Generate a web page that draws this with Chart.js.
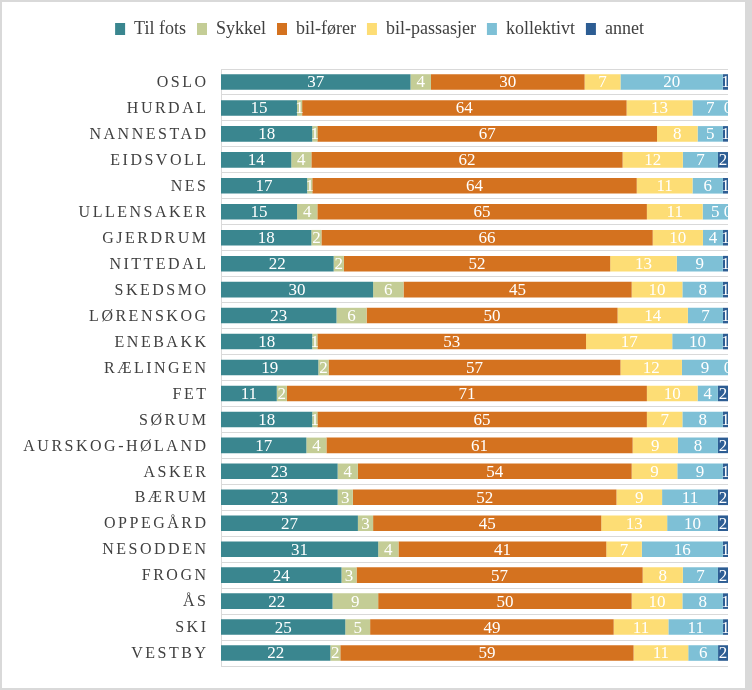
<!DOCTYPE html>
<html>
<head>
<meta charset="utf-8">
<script src="https://cdn.jsdelivr.net/npm/chart.js@4.4.1/dist/chart.umd.min.js"></script>
<style>
    html, body { margin: 0; padding: 0; background: #d9d9d9; }
    #frame { position: absolute; left: 2px; top: 2px; width: 743px; height: 686px; background: #ffffff; }
    canvas { display: block; }
</style>
</head>
<body>
<div id="frame"><canvas id="chart" width="743" height="686"></canvas></div>
<script>
const kommuner = ['OSLO', 'HURDAL', 'NANNESTAD', 'EIDSVOLL', 'NES', 'ULLENSAKER', 'GJERDRUM', 'NITTEDAL',
    'SKEDSMO', 'LØRENSKOG', 'ENEBAKK', 'RÆLINGEN', 'FET', 'SØRUM', 'AURSKOG-HØLAND', 'ASKER', 'BÆRUM',
    'OPPEGÅRD', 'NESODDEN', 'FROGN', 'ÅS', 'SKI', 'VESTBY'];

const tilFots      = [37, 15, 18, 14, 17, 15, 18, 22, 30, 23, 18, 19, 11, 18, 17, 23, 23, 27, 31, 24, 22, 25, 22];
const sykkel       = [ 4,  1,  1,  4,  1,  4,  2,  2,  6,  6,  1,  2,  2,  1,  4,  4,  3,  3,  4,  3,  9,  5,  2];
const bilForer     = [30, 64, 67, 62, 64, 65, 66, 52, 45, 50, 53, 57, 71, 65, 61, 54, 52, 45, 41, 57, 50, 49, 59];
const bilPassasjer = [ 7, 13,  8, 12, 11, 11, 10, 13, 10, 14, 17, 12, 10,  7,  9,  9,  9, 13,  7,  8, 10, 11, 11];
const kollektivt   = [20,  7,  5,  7,  6,  5,  4,  9,  8,  7, 10,  9,  4,  8,  8,  9, 11, 10, 16,  7,  8, 11,  6];
const annet        = [ 1,  0,  1,  2,  1,  0,  1,  1,  1,  1,  1,  0,  2,  1,  2,  1,  2,  2,  1,  2,  1,  1,  2];

const series = [
    { label: 'Til fots', values: tilFots, color: '#3a868f' },
    { label: 'Sykkel', values: sykkel, color: '#c4cd96' },
    { label: 'bil-fører', values: bilForer, color: '#d4721f' },
    { label: 'bil-passasjer', values: bilPassasjer, color: '#fddd75' },
    { label: 'kollektivt', values: kollektivt, color: '#7ec0d6' },
    { label: 'annet', values: annet, color: '#2d5d93' },
];

// 100 % stacked: each row is scaled to its own total
const totals = kommuner.map((k, i) => series.reduce((sum, s) => sum + s.values[i], 0));

const serif = '"Liberation Serif", "Times New Roman", serif';

const labelsPlugin = {
    id: 'labelsPlugin',
    afterDatasetsDraw(chart)
    {
        const ctx = chart.ctx;
        const area = chart.chartArea;

        // white value labels in the middle of each segment
        ctx.save();
        ctx.beginPath();
        ctx.rect(area.left, area.top, area.right - area.left, area.bottom - area.top);
        ctx.clip();
        ctx.font = '17px ' + serif;
        ctx.fillStyle = '#ffffff';
        ctx.textAlign = 'center';
        ctx.textBaseline = 'middle';
        chart.data.datasets.forEach((ds, di) =>
        {
            chart.getDatasetMeta(di).data.forEach((bar, i) =>
            {
                ctx.fillText(String(ds.raw[i]), (bar.x + bar.base) / 2, bar.y + 1);
            });
        });
        ctx.restore();

        // spaced capital category labels
        const yScale = chart.scales.y;
        const spacing = 2.5;
        ctx.save();
        ctx.font = '16px ' + serif;
        ctx.fillStyle = '#404040';
        ctx.textAlign = 'right';
        ctx.textBaseline = 'middle';
        ctx.letterSpacing = spacing + 'px';
        chart.data.labels.forEach((label, i) =>
        {
            ctx.fillText(label, area.left - 15 + spacing, yScale.getPixelForValue(i) + 1);
        });
        ctx.restore();
    }
};

let config = {
    type: 'bar',
    data: {
        labels: kommuner,
        datasets: series.map(s => ({
            label: s.label,
            raw: s.values,
            data: s.values.map((v, i) => v / totals[i] * 100),
            backgroundColor: s.color,
            borderWidth: 0,
            barPercentage: 0.6,
            categoryPercentage: 1,
        })),
    },
    options: {
        indexAxis: 'y',
        responsive: false,
        animation: false,
        devicePixelRatio: 1,
        layout: { padding: { top: 7, bottom: 22, left: 12, right: 0 } },
        scales: {
            x: {
                type: 'linear',
                position: 'top',
                stacked: true,
                min: 0,
                max: 100,
                ticks: { display: false },
                grid: { display: false },
                border: { display: false },
                afterFit: s => { s.height = 21; },
            },
            y: {
                type: 'category',
                stacked: true,
                ticks: { display: false },
                grid: { color: '#d9d9d9', drawTicks: false, offset: true },
                border: { display: true, color: '#d9d9d9' },
                afterFit: s => { s.width = 207; },
            },
            y2: {
                type: 'linear',
                position: 'right',
                ticks: { display: false },
                grid: { display: false },
                border: { display: false },
                afterFit: s => { s.width = 17; },
            },
        },
        plugins: {
            legend: {
                position: 'top',
                labels: {
                    boxWidth: 10,
                    boxHeight: 12,
                    padding: 11,
                    color: '#404040',
                    font: { family: serif, size: 18 },
                },
            },
            tooltip: { enabled: false },
        },
    },
    plugins: [labelsPlugin],
};

new Chart(document.getElementById('chart'), config);
</script>
</body>
</html>
